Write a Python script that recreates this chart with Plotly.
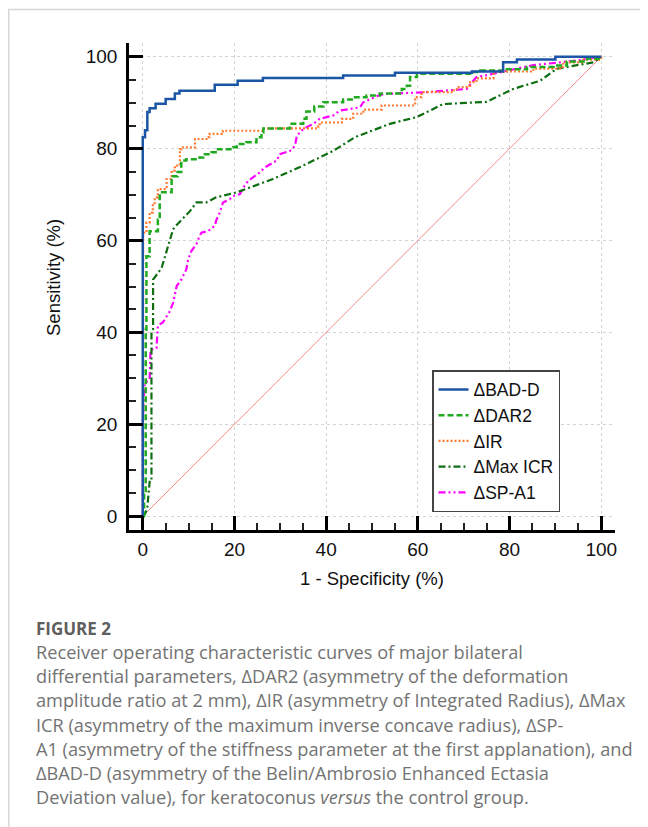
import plotly.graph_objects as go

# ---------------- data ----------------
bad_x = [0, 0, 0.5, 1, 1.5, 2.8, 5, 7, 8, 15.7, 20.7, 26.2, 43.7, 55, 71.8, 78.6, 81.6, 90, 100]
bad_y = [0, 82.5, 84, 88, 88.8, 89.8, 90.8, 92, 92.6, 93.9, 94.8, 95.4, 95.9, 96.5, 96.8, 98.8, 99.4, 100, 100]

dar_x = [0, 0.3, 0.65, 0.8, 1.5, 3.3, 3.7, 6.3, 6.6, 7.6, 8.4, 9.5, 12.4, 13.2, 15, 16.4, 19.7, 20.5, 22.6,
         24.8, 25.9, 26.3, 32.1, 35, 35.7, 37.4, 39.4, 43.7, 45.9, 48.8, 51.7, 56.1, 56.5, 57.6, 58.3, 59.8,
         72.1, 73.6, 79.4, 83.8, 89.6, 92.5, 96.9, 100]
dar_y = [0, 5, 40.6, 56.6, 62, 64.6, 70.5, 73.4, 74, 74.9, 77.4, 77.7, 78.1, 78.8, 79.2, 79.9, 80.3, 81, 81.4,
         82.5, 83.5, 84.4, 85.4, 86.5, 88.1, 89.2, 90.1, 90.7, 91.2, 91.6, 92, 92.3, 93, 93.7, 95.6, 96.3,
         96.7, 97, 97.3, 97.8, 98.1, 99, 99.6, 100]

ir_x = [0, 0.1, 0.8, 1.5, 2.2, 2.6, 3.3, 5.2, 6.3, 7, 8.1, 8.4, 11.4, 13.9, 14.6, 17.2, 17.5, 26.2, 38.3, 38.6,
        43.4, 45.9, 48.1, 52.1, 59.4, 60.8, 67.8, 68.5, 70.7, 71.4, 72.8, 76.5, 79.4, 85.2, 91, 91.7, 96.1, 100]
ir_y = [0, 61.7, 63.9, 66.1, 67.9, 69.4, 71.2, 73.4, 75.2, 76.3, 79.9, 80.3, 82.1, 82.5, 83.2, 83.4, 83.9, 84.4,
        84.9, 85.7, 86.5, 87.6, 88.5, 89.4, 91.2, 92.3, 92.7, 93.4, 93.7, 94.5, 95.3, 96.7, 96.8, 97.4, 97.8,
        98.8, 99.4, 100]

icr_x = [0, 0.5, 1, 1.5, 1.9, 1.9, 2.25, 2.25, 4.1, 6.6, 7, 10.3, 11.7, 13.9, 16, 20.5, 28.4, 34.3, 41.5, 46.3,
         53.9, 59.8, 65.5, 75, 80.8, 86.7, 90.3, 98.3, 100]
icr_y = [0, 0.5, 2, 7.5, 7.5, 40, 40.6, 51.5, 54, 62.4, 63, 66.4, 68.3, 68.3, 69.4, 70.5, 73.4, 76, 79.5, 82.5,
         85.4, 86.9, 89.7, 90.2, 93, 94.8, 97.4, 98.8, 100]

sp_x = [0, 0, 0.4, 1.5, 1.7, 3, 3.3, 4.4, 5.9, 6.6, 7.4, 8.4, 9.5, 9.9, 10.6, 11.7, 12.4, 12.8, 14.3, 15.7,
        16.1, 16.8, 17.5, 19, 19.7, 21.2, 21.9, 23, 25.5, 26.6, 29.2, 29.9, 32.1, 33.2, 33.6, 35, 37.2, 38.6,
        41.5, 43, 47.4, 48.1, 51, 52.5, 61.9, 66.3, 70.7, 72.1, 72.8, 75, 79.4, 85.2, 90.3, 94.7, 97.6, 100]
sp_y = [0, 21, 29, 29.7, 36.2, 36.6, 41.5, 42.2, 44.6, 46.4, 50.1, 51.5, 53.7, 55.9, 57.7, 59.2, 61, 61.7,
        62.1, 63.2, 64.6, 66.1, 68.3, 69, 69.7, 70.1, 71.5, 73, 74.8, 75.9, 77.4, 78.8, 79.5, 80.6, 82.8, 84.3,
        85.4, 86.5, 87.2, 88.3, 89, 90.1, 91.4, 91.9, 92.3, 92.7, 93, 94.8, 95.6, 96, 97, 98.2, 98.7, 99.2,
        99.7, 100]

ref_x = [0, 100]
ref_y = [0, 100]

x_ticks = [0, 20, 40, 60, 80, 100]
y_ticks = [0, 20, 40, 60, 80, 100]

caption_title = "FIGURE 2"
caption_lines = [
    "Receiver operating characteristic curves of major bilateral",
    "differential parameters, ΔDAR2 (asymmetry of the deformation",
    "amplitude ratio at 2 mm), ΔIR (asymmetry of Integrated Radius), ΔMax",
    "ICR (asymmetry of the maximum inverse concave radius), ΔSP-",
    "A1 (asymmetry of the stiffness parameter at the first applanation), and",
    "ΔBAD-D (asymmetry of the Belin/Ambrosio Enhanced Ectasia",
    "Deviation value), for keratoconus <i>versus</i> the control group.",
]

# ---------------- layout geometry (page pixels; page body has an 8px margin) ----------------
OFF = 8
PAGE_W, PAGE_H = 648, 827
W, H = PAGE_W - OFF, PAGE_H - OFF
AX_L, AX_R, AX_T, AX_B = 129, 615, 43, 530   # plot area edges on the page
L, R, T, B = AX_L - OFF, PAGE_W - AX_R, AX_T - OFF, PAGE_H - AX_B
PW = W - L - R
PH = H - T - B


def px(xp):
    return (xp - AX_L) / PW


def py(yp):
    return (AX_B - yp) / PH


FONT = "Liberation Sans, Arial, sans-serif"
CAP_FONT = "Open Sans, Noto Sans, sans-serif"

fig = go.Figure()

fig.add_trace(go.Scatter(x=ref_x, y=ref_y, mode="lines", showlegend=False, hoverinfo="skip",
                         line=dict(color="#f28b8b", width=1)))

fig.add_trace(go.Scatter(x=sp_x, y=sp_y, mode="lines", name="ΔSP-A1", legendrank=5,
                         line=dict(color="#ff00ff", width=2.2, dash="7px,3px,2px,3px,2px,3px")))
fig.add_trace(go.Scatter(x=icr_x, y=icr_y, mode="lines", name="ΔMax ICR", legendrank=4,
                         line=dict(color="#0e6e12", width=2.2, dash="7px,3px,2px,3px")))
fig.add_trace(go.Scatter(x=ir_x, y=ir_y, mode="lines", name="ΔIR", legendrank=3,
                         line=dict(color="#ff7a2e", width=2.2, dash="2px,2px", shape="hv")))
fig.add_trace(go.Scatter(x=dar_x, y=dar_y, mode="lines", name="ΔDAR2", legendrank=2,
                         line=dict(color="#1faa1f", width=2.5, dash="6px,3px", shape="hv")))
fig.add_trace(go.Scatter(x=bad_x, y=bad_y, mode="lines", name="ΔBAD-D", legendrank=1,
                         line=dict(color="#1b55a6", width=2.5, shape="hv")))

axis_common = dict(
    range=[-3, 103], showline=True, linecolor="black", linewidth=2.5, mirror=False,
    ticks="inside", ticklen=14, tickwidth=2.5, tickcolor="black",
    minor=dict(ticks="inside", ticklen=7, tickwidth=1.5, tickcolor="#222", dtick=5, showgrid=False),
    showgrid=True, gridcolor="#d4d4d4", griddash="dot", gridwidth=1,
    zeroline=False, tickfont=dict(family=FONT, size=19, color="#111"),
)

fig.update_xaxes(tickvals=x_ticks, ticktext=[str(v) for v in x_ticks], **axis_common)
fig.update_yaxes(tickvals=y_ticks, ticktext=[str(v) for v in y_ticks], ticklabelstandoff=5, **axis_common)

annotations = [
    dict(text="1 - Specificity (%)", x=0.5, y=py(578), xref="paper", yref="paper", showarrow=False,
         xanchor="center", yanchor="middle", font=dict(family=FONT, size=18.5, color="#111")),
    dict(text="Sensitivity (%)", x=px(53), y=py(278), xref="paper", yref="paper", showarrow=False,
         textangle=-90, xanchor="center", yanchor="middle", font=dict(family=FONT, size=18.5, color="#111")),
    dict(text="<b>" + caption_title + "</b>", x=px(34), y=py(628), xref="paper", yref="paper",
         showarrow=False, xanchor="left", yanchor="middle",
         font=dict(family=CAP_FONT, size=17, color="#5e5e5e")),
]
for i, line in enumerate(caption_lines):
    annotations.append(dict(text=line, x=px(34), y=py(652 + i * 24.2), xref="paper", yref="paper",
                            showarrow=False, xanchor="left", yanchor="middle",
                            font=dict(family=CAP_FONT, size=18.2, color="#737373")))

shapes = [
    dict(type="line", xref="paper", yref="paper", x0=px(8.8), x1=px(8.8), y0=py(9), y1=py(PAGE_H + 5),
         line=dict(color="#d6d6d6", width=1.5)),
    dict(type="line", xref="paper", yref="paper", x0=px(8), x1=px(PAGE_W + 5), y0=py(9.5), y1=py(9.5),
         line=dict(color="#d6d6d6", width=1.5)),
]

fig.update_layout(
    width=W, height=H, margin=dict(l=L, r=R, t=T, b=B, pad=0),
    paper_bgcolor="white", plot_bgcolor="white",
    font=dict(family=FONT, size=19, color="#111"),
    showlegend=True,
    legend=dict(x=px(432), y=py(370), xanchor="left", yanchor="top",
                bgcolor="white", bordercolor="#444", borderwidth=1.5,
                font=dict(family=FONT, size=17.5, color="#111"),
                entrywidth=125, entrywidthmode="pixels",
                traceorder="normal", tracegroupgap=0),
    annotations=annotations, shapes=shapes,
)

fig.write_html("out.html")
